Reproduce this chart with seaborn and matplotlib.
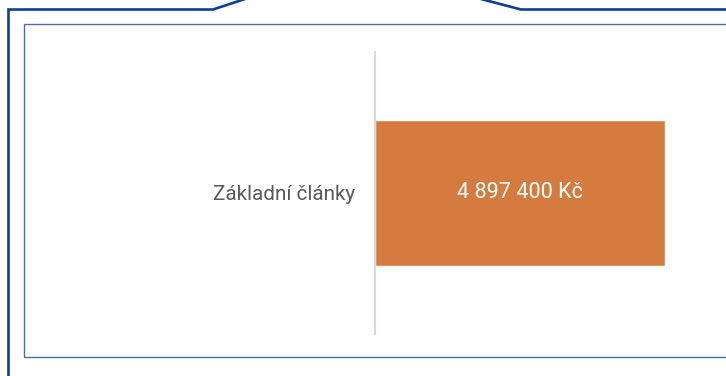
import matplotlib
matplotlib.use("Agg")
import matplotlib.pyplot as plt
from matplotlib.lines import Line2D
from matplotlib.patches import Rectangle
import seaborn as sns
import pandas as pd

categories = ["Základní články"]
values = [4897400]
value_labels = ["4 897 400 Kč"]

sns.set_style("white")
plt.rcParams["font.family"] = ["Roboto", "DejaVu Sans"]

W, H = 726, 376
fig = plt.figure(figsize=(W / 100, H / 100), dpi=100)

def fx(px):
    return px / W

def fy(py):
    return 1 - py / H

# outer frame with the raised tab at the top
frame_color = "#0E3F94"
fig.add_artist(Line2D([fx(8.5), fx(8.5), fx(213), fx(245)],
                      [fy(380), fy(9.5), fy(9.5), fy(-1)],
                      color=frame_color, lw=1.9, transform=fig.transFigure,
                      solid_joinstyle="miter"))
fig.add_artist(Line2D([fx(481), fx(521), fx(730)],
                      [fy(-1), fy(9.5), fy(9.5)],
                      color=frame_color, lw=1.9, transform=fig.transFigure,
                      solid_joinstyle="miter"))

# inner panel border
fig.add_artist(Rectangle((fx(23.5), fy(356.5)), fx(760) - fx(23.5), fy(23.5) - fy(356.5),
                         fill=False, edgecolor="#4A6CAE", lw=1.0,
                         transform=fig.transFigure))

ax_left, ax_right = 375, 700
ax_top, ax_bottom = 52, 334
ax = fig.add_axes([fx(ax_left), fy(ax_bottom), fx(ax_right) - fx(ax_left),
                   fy(ax_top) - fy(ax_bottom)])

df = pd.DataFrame({"category": categories, "value": values})
sns.barplot(data=df, x="value", y="category", orient="h", color="#D67B3F",
            width=0.52, saturation=1, ax=ax)

bar_end_px = 665
ax.set_xlim(0, values[0] * (ax_right - ax_left) / (bar_end_px - ax_left))
ax.set_ylim(0.5, -0.5)

for patch, lab in zip(ax.patches, value_labels):
    cx = patch.get_x() + patch.get_width() / 2
    cy = patch.get_y() + patch.get_height() / 2
    ax.text(cx, cy, lab, ha="center", va="center", color="white",
            fontsize=15.6)

for s in ["top", "right", "bottom"]:
    ax.spines[s].set_visible(False)
ax.spines["left"].set_color("#D9D9D9")
ax.spines["left"].set_linewidth(1.5)
ax.set_xticks([])
ax.set_xlabel("")
ax.set_ylabel("")
ax.tick_params(axis="y", length=0, pad=14.4, labelsize=14.9, labelcolor="#595959")

fig.savefig("out.png", dpi=100)
